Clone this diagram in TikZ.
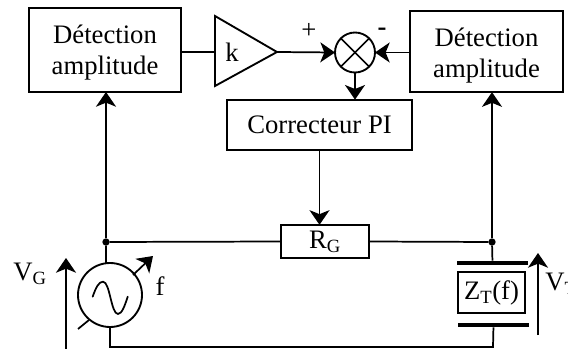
\documentclass[tikz,border=0pt]{standalone}
\usepackage{fontspec}
\setmainfont{Liberation Serif}
\usetikzlibrary{arrows.meta}
\tikzset{
  block/.style={draw,line width=1.4pt,fill=white,inner sep=0pt,outer sep=0pt,align=center},
  wire/.style={line width=1.3pt},
  arr/.style={wire,-{Stealth[length=11pt,width=15pt,inset=3pt]}},
  plate/.style={fill=black,inner sep=0pt,outer sep=0pt,minimum height=3.5pt,minimum width=53pt},
  dot/.style={circle,fill=black,inner sep=0pt,outer sep=0pt,minimum size=5.5pt},
  lab/.style={inner sep=0pt,font=\fontsize{20}{23.5}\selectfont},
}
\begin{document}
\begin{tikzpicture}[x=0.75pt,y=-0.75pt]
  \useasboundingbox (0,0) rectangle (568,349);
  % blocks
  \node[block,lab,minimum width=114pt,minimum height=63pt] (detG) at (105,50) {\rule{0pt}{17.5pt}Détection\\amplitude};
  \node[block,lab,minimum width=115pt,minimum height=61pt] (detT) at (486.5,51.5) {\rule{0pt}{20.5pt}Détection\\amplitude};
  \node[block,lab,minimum width=139pt,minimum height=38pt] (correct) at (319.5,125) {Correcteur PI};
  \node[block,lab,minimum width=66pt,minimum height=25pt] (rg) at (325,241.5) {R\textsubscript{G}};
  \node[block,lab,minimum width=50pt,minimum height=31pt] (zt) at (491.5,292.5) {Z\textsubscript{T}(f)};
  \node[plate] (plateA) at (492.5,263) {};
  \node[plate] (plateB) at (493.5,325) {};
  % gain
  \coordinate (ampA) at (215,16);
  \coordinate (ampB) at (215,86);
  \coordinate (ampOut) at (277,52);
  \coordinate (ampIn) at (215,52);
  \draw[block] (ampA)--(ampB)--(ampOut)--cycle;
  \node[lab] (gain) at (232,52) {k};
  % mixer
  \node[block,circle,minimum size=30pt] (mult) at (355,52.5) {};
  \draw[wire] (mult.45)--(mult.225);
  \draw[wire] (mult.135)--(mult.315);
  \node[lab] (plus) at (309,31) {+};
  \node[lab,font=\fontsize{20}{23.5}\selectfont\bfseries] (minus) at (382,32) {-};
  % generator
  \node[block,circle,minimum size=48pt] (gen) at (110,295) {};
  \draw[wire,line cap=round] (92.7,296.7) .. controls (96,287) and (99,281.7) .. (103,281.7)
    .. controls (110,281.7) and (111,314) .. (118,314) .. controls (122,314) and (125,305) .. (127.7,296.7);
  \coordinate (tuneA) at (78,329);
  \coordinate (tuneB) at (89,320);
  \coordinate (tuneC) at (133,275);
  \coordinate (tuneD) at (153,256);
  \draw[wire] (tuneA)--(tuneB);
  \draw[arr] (tuneC)--(tuneD);
  \node[lab] (freq) at (160,286) {f};
  % wiring
  \node[dot] (jG) at (106,242) {};
  \node[dot] (jT) at (492,242) {};
  \coordinate (botG) at (110,347);
  \coordinate (botT) at (493,347);
  \draw[wire] (detG.east |- ampIn)--(ampIn);
  \draw[arr] (ampOut)--(mult.west);
  \draw[arr] (detT.west |- mult.east)--(mult.east);
  \draw[arr] (mult.south)--(mult.south |- correct.north);
  \draw[arr] (correct.south)--(correct.south |- rg.north);
  \draw[wire] (jG)--(rg.west);
  \draw[wire] (rg.east)--(jT);
  \draw[arr] (jG)--(jG |- detG.south);
  \draw[arr] (jT)--(jT |- detT.south);
  \draw[wire] (jG)--(gen.97);
  \draw[wire] (jT)--(plateA);
  \draw[wire] (gen.south)--(botG)--(botT)--(plateB);
  % voltages
  \coordinate (vgA) at (66,349);
  \coordinate (vgB) at (66,258);
  \coordinate (vtA) at (538,335);
  \coordinate (vtB) at (538,253);
  \draw[arr] (vgA)--(vgB);
  \draw[arr] (vtA)--(vtB);
  \node[lab,anchor=west] (vg) at (13,274) {V\textsubscript{G}};
  \node[lab,anchor=west] (vt) at (545,284) {V\textsubscript{T}};
\end{tikzpicture}
\end{document}
